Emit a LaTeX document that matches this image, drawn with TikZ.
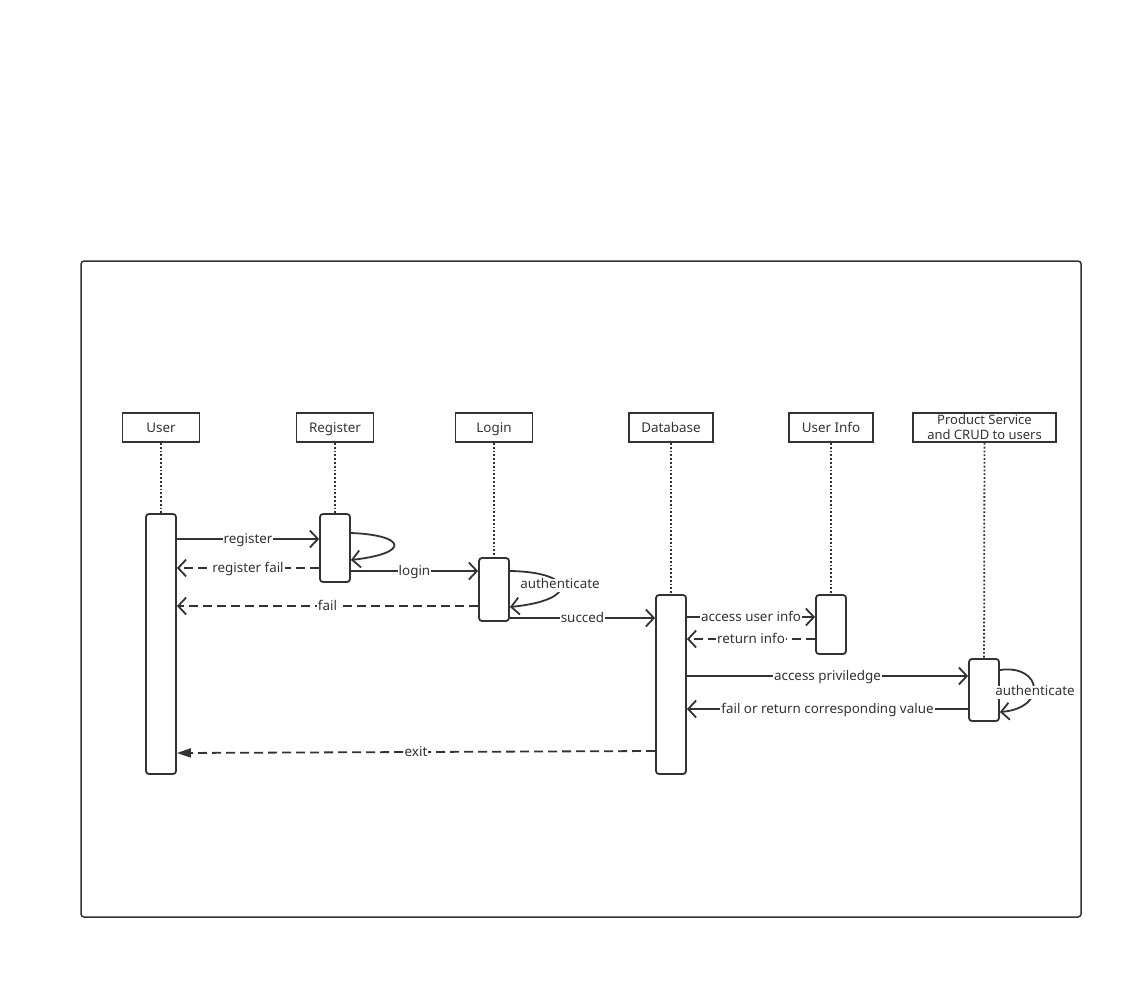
\documentclass[tikz,border=0pt]{standalone}
\usepackage{fontspec}
\setmainfont{Noto Sans}
\usetikzlibrary{arrows.meta}
\definecolor{ink}{HTML}{333333}
\tikzset{
  lbl/.style={font=\fontsize{13.4}{15}\selectfont, text=ink},
  head/.style={draw=ink, line width=1.8pt, minimum height=29, inner sep=1pt, lbl, align=center},
  head1/.style={head, text height=11pt, text depth=1pt},
  act/.style={draw=ink, line width=1.8pt, rounded corners=3, minimum width=30, fill=white},
  life/.style={draw=ink, line width=1.8pt, dotted},
  msg/.style={draw=ink, line width=1.8pt, -{Straight Barb[length=8pt,width=17pt,line width=1.8pt]}},
  ret/.style={msg, dash pattern=on 9pt off 5pt},
  mlbl/.style={lbl, fill=white, inner sep=1pt, text height=9pt, text depth=2.5pt, yshift=-1.5pt},
}
\begin{document}
\begin{tikzpicture}[x=1pt,y=-1pt]
\useasboundingbox (0,0) rectangle (1143,980);
\draw[ink, line width=1.5pt, rounded corners=3] (81,261) rectangle (1081,917);
% headers
\node[head1, minimum width=77] (hU) at (161,427.5) {User};
\node[head1, minimum width=77] (hR) at (335,427.5) {Register};
\node[head1, minimum width=77] (hL) at (494,427.5) {Login};
\node[head1, minimum width=84] (hD) at (671,427.5) {Database};
\node[head1, minimum width=84] (hI) at (831,427.5) {User Info};
\node[head, minimum width=143, font=\fontsize{13}{15}\selectfont] (hP) at (984.5,427.5) {Product Service\\and CRUD to users};
% activations
\node[act, minimum height=260] (aU) at (161,644) {};
\node[act, minimum height=68] (aR) at (335,548) {};
\node[act, minimum height=63] (aL) at (494,589.5) {};
\node[act, minimum height=179] (aD) at (671,684.5) {};
\node[act, minimum height=59] (aI) at (831,624.5) {};
\node[act, minimum height=62] (aP) at (984,690) {};
% lifelines
\draw[life] (hU) -- (aU);
\draw[life] (hR) -- (aR);
\draw[life] (hL) -- (aL);
\draw[life] (hD) -- (aD);
\draw[life] (hI) -- (aI);
\draw[life] (hP) -- (aP);
% messages
\draw[msg] (aU.east |- 0,539) -- node[mlbl] {register} (aR.west |- 0,539);
\draw[msg] (aR.east |- 0,533) .. controls (405,535) and (412,553) .. (aR.east |- 0,560);
\draw[ret] (aR.west |- 0,568) -- node[mlbl] {register fail} (aU.east |- 0,568);
\draw[msg] (aR.east |- 0,571) -- node[mlbl] {login} (aL.west |- 0,571);
\draw[msg] (aL.east |- 0,571) .. controls (575,572) and (580,600) .. (aL.east |- 0,607);
\node[mlbl] (authL) at (560,584) {authenticate};
\draw[ret] (aL.west |- 0,606) -- node[mlbl] {fail} (aU.east |- 0,606);
\draw[msg] (aL.east |- 0,618) -- node[mlbl] {succed} (aD.west |- 0,618);
\draw[msg] (aD.east |- 0,617) -- node[mlbl] {access user info} (aI.west |- 0,617);
\draw[ret] (aI.west |- 0,639) -- node[mlbl] {return info} (aD.east |- 0,639);
\draw[msg] (aD.east |- 0,676) -- node[mlbl] {access priviledge} (aP.west |- 0,676);
\draw[msg] (aP.east |- 0,670) .. controls (1042,664) and (1048,708) .. (aP.east |- 0,712);
\node[mlbl] (authP) at (1035,691) {authenticate};
\draw[msg] (aP.west |- 0,709) -- node[mlbl] {fail or return corresponding value} (aD.east |- 0,709);
\draw[draw=ink, line width=1.8pt, dash pattern=on 9pt off 5pt, -{Triangle[length=14pt,width=9pt]}] (aD.west |- 0,751) -- node[mlbl] {exit} (aU.east |- 0,753);
\end{tikzpicture}
\end{document}
